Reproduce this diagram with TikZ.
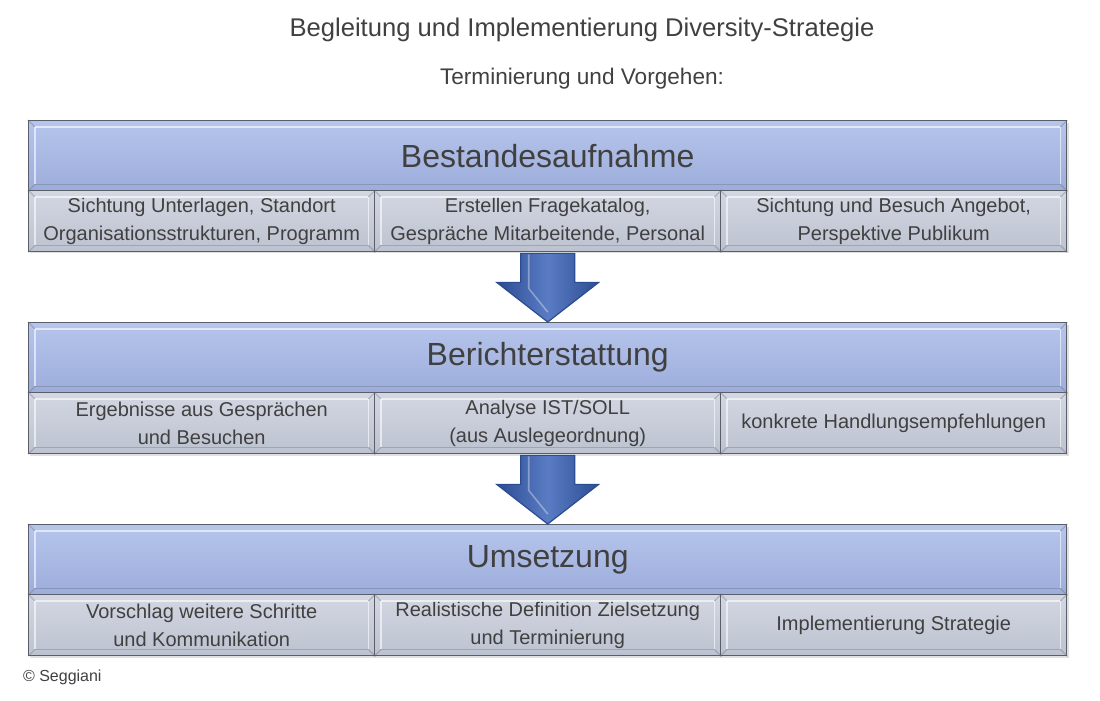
\documentclass[tikz,border=0pt]{standalone}
\usepackage{fontspec}
\setmainfont{Liberation Sans}
\usetikzlibrary{calc}
\definecolor{txt}{HTML}{404040}
\definecolor{headtop}{HTML}{B6C5EC}
\definecolor{headbot}{HTML}{9DADDB}
\definecolor{subtop}{HTML}{D3D7E2}
\definecolor{subbot}{HTML}{BDC2D0}
\definecolor{arrA}{HTML}{5A7CC4}
\definecolor{arrB}{HTML}{2C4C92}
\definecolor{edge}{HTML}{5A5E68}
\tikzset{
  headbox/.style={draw=edge, line width=0.7pt, top color=headtop, bottom color=headbot,
    minimum width=519pt, minimum height=35pt, inner sep=0pt, text=txt,
    font=\fontsize{16}{19}\selectfont, anchor=north west},
  subbox/.style={draw=edge, line width=0.7pt, top color=subtop, bottom color=subbot,
    minimum width=173pt, minimum height=30.5pt, inner sep=0pt, text=txt, align=center,
    font=\fontsize{10}{14}\selectfont, anchor=north west},
  bevlight/.style={white, opacity=0.6, line width=0.8pt},
  bevdark/.style={edge, opacity=0.3, line width=0.6pt},
  blockarrow/.style={draw=arrB, line width=0.6pt, left color=arrB, right color=arrB, middle color=arrA},
  shadowbox/.style={fill=black, opacity=0.12},
}
\newcommand{\bevel}[1]{%
  \draw[bevdark] (#1.north west) -- ++(7,7) (#1.north east) -- ++(-7,7)
     (#1.south west) -- ++(7,-7) (#1.south east) -- ++(-7,-7);
  \draw[bevlight] ($(#1.north west)+(7,7)$) -- ($(#1.south west)+(7,-7)$);
  \draw[bevlight] ($(#1.north west)+(7,7)$) -- ($(#1.north east)+(-7,7)$);
  \draw[bevlight] ($(#1.north east)+(-7,7)$) -- ($(#1.south east)+(-7,-7)$);
  \draw[bevdark] ($(#1.south west)+(7,-7)$) -- ($(#1.south east)+(-7,-7)$);
}
\begin{document}
\begin{tikzpicture}[x=0.5pt,y=-0.5pt]
\useasboundingbox (0,0) rectangle (1100,701);

\node[text=txt, font=\fontsize{12.8}{15}\selectfont] (title) at (582,30) {Begleitung und Implementierung Diversity-Strategie};
\node[text=txt, font=\fontsize{11.3}{13}\selectfont] (subtitle) at (582,79) {Terminierung und Vorgehen:};

% shadows
\foreach \yt/\yb in {120/250, 322/453, 524/655}{
  \fill[shadowbox] (30,\yt+3) rectangle (1069,\yb+3);
}

% Band 1
\node[headbox] (h1) at (28,120) {Bestandesaufnahme};
\node[subbox] (s11) at (28,190) {Sichtung Unterlagen, Standort\\Organisationsstrukturen, Programm};
\node[subbox] (s12) at (374,190) {Erstellen Fragekatalog,\\Gespräche Mitarbeitende, Personal};
\node[subbox] (s13) at (720,190) {Sichtung und Besuch Angebot,\\Perspektive Publikum};

% Band 2
\node[headbox] (h2) at (28,322) {Berichterstattung};
\node[subbox] (s21) at (28,392) {Ergebnisse aus Gesprächen\\und Besuchen};
\node[subbox] (s22) at (374,392) {Analyse IST/SOLL\\(aus Auslegeordnung)};
\node[subbox] (s23) at (720,392) {konkrete Handlungsempfehlungen};

% Band 3
\node[headbox] (h3) at (28,524) {Umsetzung};
\node[subbox] (s31) at (28,594) {Vorschlag weitere Schritte\\und Kommunikation};
\node[subbox] (s32) at (374,594) {Realistische Definition Zielsetzung\\und Terminierung};
\node[subbox] (s33) at (720,594) {Implementierung Strategie};

\foreach \n in {h1,s11,s12,s13,h2,s21,s22,s23,h3,s31,s32,s33}{\bevel{\n}}

% block arrows
\path (s12.south) coordinate (a1s);
\path (h2.north) coordinate (a1t);
\draw[blockarrow] ($(a1s)+(-27,1)$) -- ($(a1s)+(-27,30)$) -- ($(a1s)+(-51,30)$) -- (a1t)
   -- ($(a1s)+(51,30)$) -- ($(a1s)+(27,30)$) -- ($(a1s)+(27,1)$) -- cycle;
\draw[white, opacity=0.35, line width=0.8pt] ($(a1s)+(-19,2)$) -- ($(a1s)+(-19,36)$) -- ($(a1t)+(0,-10)$);
\path (s22.south) coordinate (a2s);
\path (h3.north) coordinate (a2t);
\draw[blockarrow] ($(a2s)+(-27,1)$) -- ($(a2s)+(-27,30)$) -- ($(a2s)+(-51,30)$) -- (a2t)
   -- ($(a2s)+(51,30)$) -- ($(a2s)+(27,30)$) -- ($(a2s)+(27,1)$) -- cycle;
\draw[white, opacity=0.35, line width=0.8pt] ($(a2s)+(-19,2)$) -- ($(a2s)+(-19,36)$) -- ($(a2t)+(0,-10)$);

\node[text=txt, font=\fontsize{8}{9}\selectfont, anchor=west] (copy) at (16,677) {© Seggiani};
\end{tikzpicture}
\end{document}
